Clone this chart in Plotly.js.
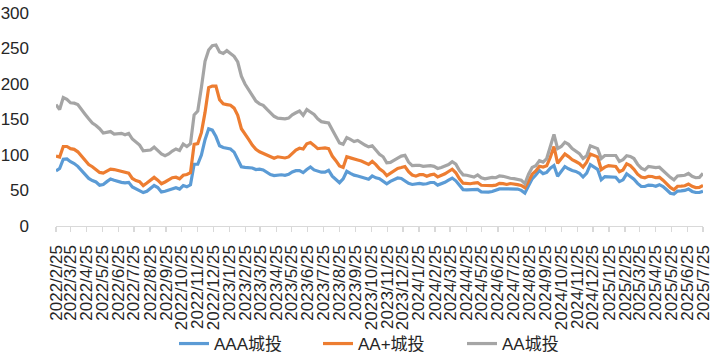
<!DOCTYPE html>
<html>
<head>
<meta charset="utf-8">
<script src="https://cdn.plot.ly/plotly-3.0.1.min.js"></script>
<style>html,body{margin:0;padding:0;background:#fff;}#chart{width:719px;height:355px;}</style>
</head>
<body>
<div id="chart"></div>
<script>
// Weekly observation dates (Fridays)
const dates = [
"2022-02-25","2022-03-04","2022-03-11","2022-03-18","2022-03-25","2022-04-01","2022-04-08","2022-04-15","2022-04-22","2022-04-29",
"2022-05-06","2022-05-13","2022-05-20","2022-05-27","2022-06-03","2022-06-10","2022-06-17","2022-06-24","2022-07-01","2022-07-08",
"2022-07-15","2022-07-22","2022-07-29","2022-08-05","2022-08-12","2022-08-19","2022-08-26","2022-09-02","2022-09-09","2022-09-16",
"2022-09-23","2022-09-30","2022-10-07","2022-10-14","2022-10-21","2022-10-28","2022-11-04","2022-11-11","2022-11-18","2022-11-25",
"2022-12-02","2022-12-09","2022-12-16","2022-12-23","2022-12-30",
"2023-01-06","2023-01-13","2023-01-20","2023-01-27","2023-02-03","2023-02-10","2023-02-17","2023-02-24","2023-03-03","2023-03-10",
"2023-03-17","2023-03-24","2023-03-31","2023-04-07","2023-04-14","2023-04-21","2023-04-28","2023-05-05","2023-05-12","2023-05-19",
"2023-05-26","2023-06-02","2023-06-09","2023-06-16","2023-06-23","2023-06-30","2023-07-07","2023-07-14","2023-07-21","2023-07-28",
"2023-08-04","2023-08-11","2023-08-18","2023-08-25","2023-09-01","2023-09-08","2023-09-15","2023-09-22","2023-09-29","2023-10-06",
"2023-10-13","2023-10-20","2023-10-27","2023-11-03","2023-11-10","2023-11-17","2023-11-24","2023-12-01","2023-12-08","2023-12-15",
"2023-12-22","2023-12-29",
"2024-01-05","2024-01-12","2024-01-19","2024-01-26","2024-02-02","2024-02-09","2024-02-16","2024-02-23","2024-03-01","2024-03-08",
"2024-03-15","2024-03-22","2024-03-29","2024-04-05","2024-04-12","2024-04-19","2024-04-26","2024-05-03","2024-05-10","2024-05-17",
"2024-05-24","2024-05-31","2024-06-07","2024-06-14","2024-06-21","2024-06-28","2024-07-05","2024-07-12","2024-07-19","2024-07-26",
"2024-08-02","2024-08-09","2024-08-16","2024-08-23","2024-08-30","2024-09-06","2024-09-13","2024-09-20","2024-09-27","2024-10-04",
"2024-10-11","2024-10-18","2024-10-25","2024-11-01","2024-11-08","2024-11-15","2024-11-22","2024-11-29","2024-12-06","2024-12-13",
"2024-12-20","2024-12-27",
"2025-01-03","2025-01-10","2025-01-17","2025-01-24","2025-01-31","2025-02-07","2025-02-14","2025-02-21","2025-02-28","2025-03-07",
"2025-03-14","2025-03-21","2025-03-28","2025-04-04","2025-04-11","2025-04-18","2025-04-25","2025-05-02","2025-05-09","2025-05-16",
"2025-05-23","2025-05-30","2025-06-06","2025-06-13","2025-06-20","2025-06-27","2025-07-04","2025-07-11","2025-07-18","2025-07-25"
];

const aaa = [
77.5,81,94,94.5,90.5,88,84,78.5,72.5,67,
64,62,57.5,58.5,62.5,66.2,64.4,62.6,61.5,60.8,
61.5,55,52.6,50.5,47,48.8,52.6,57,54.2,48,
49,50.5,52.5,53.8,52,57,55.2,58,87,87,
100,121.5,137,135,126,113,110.5,110,108.5,104,
93,83.5,82.5,82,81.7,79.5,80,79,75.7,72.5,
71,71.5,72.2,71.4,72.8,76.2,78,78,75.2,79.5,
83.2,79,76.9,75.8,75.8,78.5,70.3,66,61,66.3,
77,74.2,71.6,70.4,68.7,67,65.8,70.5,67.8,66.5,
63.5,59.5,62.8,65.8,67.6,67,64,60,58.5,58.8,
60.1,59.1,59.5,61.3,61.3,57.6,59.2,61.6,64.6,67.5,
63.6,56.7,51.3,51,51.1,51.8,51.5,48,47.6,47.6,
48.5,50.3,52.2,52.4,52.4,51.4,51.6,52,50.2,46.3,
56.5,66.5,71.8,78.2,73.8,75.5,81.5,85.2,70.2,77,
83.7,80.6,78.1,76.9,74.3,69,74.4,86.3,82.8,79.8,
65,69.5,69.2,68.7,68.7,62.5,65,73.5,70,65.8,
60,55.6,55.6,57.6,57.3,56,58.2,55.6,51,46.1,
45.1,49.2,49.4,50.1,52.2,48.7,47.2,47.2,49
];

const aaPlus = [
98.5,97,112,112,109,108,104.5,99,92,86.5,
83.5,79,75.5,74.4,77,80,79.5,78,77.2,75.8,
74.5,67,64,62.5,57,60.5,64.5,68.5,64.5,59.5,
62,64.5,68,68.7,66.5,71.5,72.5,75,115,116,
131.5,160,195,197,197,178,172,171,170,166,
156,137,130,122,114,108,104.5,102,100.5,98,
95.5,97.5,96.5,95.8,97.3,102.5,107,109.5,108.5,115.8,
117.5,113.5,109,109.5,110,109,98.5,92,84.5,82.5,
97.5,96,94,93,91.5,89.5,86.8,91,86.5,80.5,
77,71,74.5,78,81,82.3,83.8,76.5,71.8,70.2,
72.3,72.5,70.2,72,73,69.2,71,73.5,76.8,80,
75,66.5,60.3,59.8,59.5,60.5,61.2,57.4,57,57,
57,57.5,60,59.7,58.5,59.8,59.5,58.2,57.1,54,
63,73,77.5,84.2,83,84.8,97,112,88.3,95.5,
101.5,97.7,93.4,90.8,88,83,90,101.5,99.3,97.4,
79.5,83,84.9,84.7,83.8,76.5,79,87.6,85,79.8,
73,69,68,70,69.7,68,68.6,64.5,59,54.4,
51.1,56,56.2,56.7,59.2,55.8,54.2,54.4,57
];

const aa = [
171,164,181,178.5,173.5,173,171,165,157.5,151,
145,141.5,137,131,132,133,129.5,130,130.5,128.5,
130.5,122.5,118,114,106,106,107,111,106.5,101.5,
99,101.5,105.5,108.5,106.5,115.5,112,116,156.5,162,
195,232,248,254,255,245,243,247,243,239,
231,211,200,192,184.5,176,172,170,164.5,160,
154.5,152,151,151,152,156.5,159.5,162,156,164,
160.5,157,151,147,146,145,135.5,126,117,115,
124.5,122,119,120.5,117,114,111.5,113,107,101,
97.5,89,89.5,93,95.5,98.5,99.5,90,85,85.5,
85.5,84,84.5,85,84,81,82.5,84.5,86.5,90.5,
87,78,72,71.5,70.5,69,72,68,66.5,67.5,
68.5,68,70.5,70,68.5,67.3,66.7,65.8,64.5,59.5,
73,82.5,85,92,90,95,113,129,109,112,
118,115,109,105.5,102,95,99,113,111,109,
95,99.3,99.3,99.3,99.3,91,93.5,99,98,95,
87,81.5,79,84,83,82.3,82.8,77.5,72.5,68.5,
65,70.5,71,71.5,74,70,68,68.5,74
];

const seriesNames = ["AAA城投", "AA+城投", "AA城投"];

const tickLabels = [
"2022/2/25","2022/3/25","2022/4/25","2022/5/25","2022/6/25","2022/7/25","2022/8/25","2022/9/25","2022/10/25","2022/11/25","2022/12/25",
"2023/1/25","2023/2/25","2023/3/25","2023/4/25","2023/5/25","2023/6/25","2023/7/25","2023/8/25","2023/9/25","2023/10/25","2023/11/25","2023/12/25",
"2024/1/25","2024/2/25","2024/3/25","2024/4/25","2024/5/25","2024/6/25","2024/7/25","2024/8/25","2024/9/25","2024/10/25","2024/11/25","2024/12/25",
"2025/1/25","2025/2/25","2025/3/25","2025/4/25","2025/5/25","2025/6/25","2025/7/25"
];
const tickVals = tickLabels.map(s => {
  const p = s.split("/");
  return p[0] + "-" + p[1].padStart(2, "0") + "-" + p[2].padStart(2, "0");
});

const FONT = "Liberation Sans, Noto Sans CJK SC, sans-serif";
const colors = ["#5B9BD5", "#ED7D31", "#A5A5A5"];
const values = [aaa, aaPlus, aa];

const traces = values.map((v, k) => ({
  type: "scatter",
  mode: "lines",
  x: dates,
  y: v,
  name: seriesNames[k],
  line: {color: colors[k], width: 3.2, shape: "linear"},
  hoverinfo: "skip"
}));

const layout = {
  width: 719,
  height: 355,
  margin: {l: 56, r: 16, t: 13, b: 129, pad: 0},
  paper_bgcolor: "#ffffff",
  plot_bgcolor: "#ffffff",
  font: {family: FONT, size: 17, color: "#262626"},
  showlegend: true,
  legend: {
    orientation: "h",
    xref: "paper", yref: "container",
    x: 0.1824, xanchor: "left",
    y: 0.031, yanchor: "middle",
    font: {family: FONT, size: 17, color: "#262626"},
    bgcolor: "rgba(0,0,0,0)",
    itemwidth: 30,
    entrywidth: 99,
    entrywidthmode: "pixels",
    traceorder: "normal"
  },
  xaxis: {
    type: "date",
    range: ["2022-02-25", "2025-07-25"],
    tickmode: "array",
    tickvals: tickVals,
    ticktext: tickLabels,
    tickangle: -90,
    tickfont: {family: FONT, size: 17, color: "#262626"},
    ticklabelstandoff: 6,
    showline: true,
    linecolor: "#d9d9d9",
    linewidth: 1.3,
    ticks: "outside",
    ticklen: 5,
    tickwidth: 1.3,
    tickcolor: "#d9d9d9",
    showgrid: false,
    zeroline: false,
    automargin: false,
    fixedrange: true
  },
  yaxis: {
    range: [0, 300],
    tickmode: "linear",
    tick0: 0,
    dtick: 50,
    showline: false,
    showgrid: false,
    zeroline: false,
    ticks: "",
    ticklabelstandoff: 26,
    tickfont: {family: FONT, size: 17, color: "#262626"},
    automargin: false,
    fixedrange: true
  }
};

Plotly.newPlot("chart", traces, layout, {staticPlot: true, displayModeBar: false});
</script>
</body>
</html>
